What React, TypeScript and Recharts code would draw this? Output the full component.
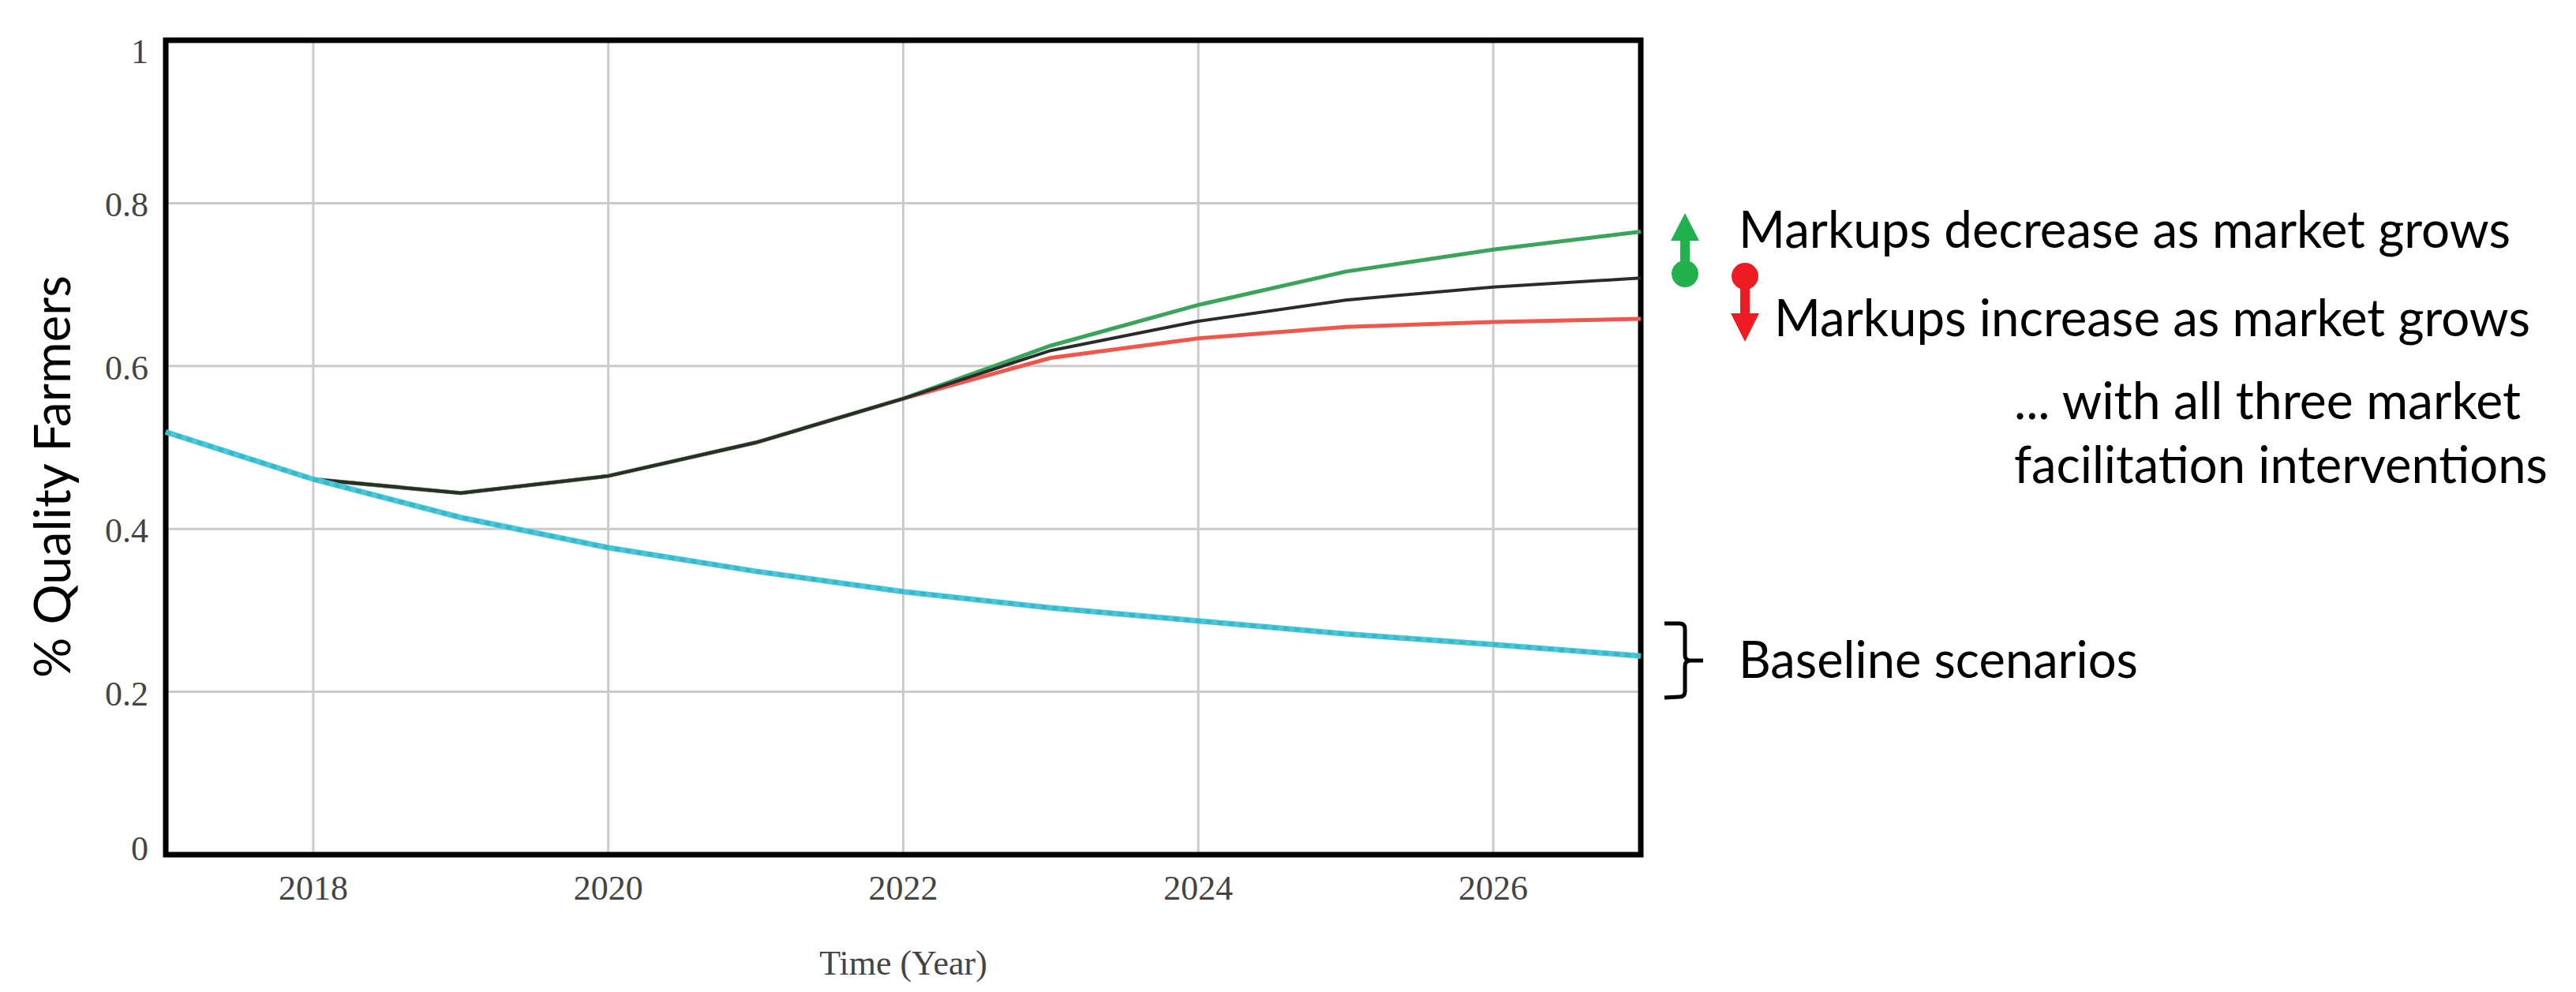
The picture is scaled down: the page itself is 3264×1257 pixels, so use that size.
import React from 'react';
import { LineChart, Line, XAxis, YAxis, CartesianGrid, ReferenceArea } from 'recharts';

const years = [2017, 2018, 2019, 2020, 2021, 2022, 2023, 2024, 2025, 2026, 2027];
const baseline = [0.519, 0.461, 0.414, 0.377, 0.348, 0.323, 0.303, 0.287, 0.271, 0.258, 0.244];
const baselineAlt = [0.519, 0.461, 0.414, 0.377, 0.348, 0.323, 0.303, 0.287, 0.271, 0.258, 0.244];
const markupsDecrease = [0.519, 0.461, 0.444, 0.465, 0.506, 0.56, 0.625, 0.675, 0.716, 0.743, 0.765];
const markupsConstant = [0.519, 0.461, 0.444, 0.465, 0.506, 0.56, 0.619, 0.655, 0.681, 0.697, 0.708];
const markupsIncrease = [0.519, 0.461, 0.444, 0.465, 0.506, 0.56, 0.61, 0.634, 0.648, 0.654, 0.658];
const xTicks = [2018, 2020, 2022, 2024, 2026];
const yTicks = [0, 0.2, 0.4, 0.6, 0.8, 1];

const chartData = years.map((year, i) => ({
  year,
  baseline: baseline[i],
  baselineAlt: baselineAlt[i],
  decrease: markupsDecrease[i],
  constant: markupsConstant[i],
  increase: markupsIncrease[i],
}));

const WIDTH = 3264;
const HEIGHT = 1257;
const NOTE_FONT = 'Lato, "Open Sans", sans-serif';
const AXIS_FONT = '"Liberation Serif", "Times New Roman", serif';
const GREEN = '#22b14c';
const RED = '#ed1c24';

const YTick = ({ x, y, payload }: any) => {
  // the end labels sit inside the frame, as in the original export
  const shift = payload.value === 1 ? 29 : payload.value === 0 ? 7 : 17;
  return (
    <text x={x} y={y + shift} textAnchor="end" fontFamily={AXIS_FONT} fontSize={44} fill="#444">
      {payload.value}
    </text>
  );
};

const YTitle = () => (
  <text
    transform="translate(64 604) rotate(-90)"
    textAnchor="middle"
    dominantBaseline="central"
    fontFamily={NOTE_FONT}
    fontSize={64}
    fill="#000"
    textLength={510}
    lengthAdjust="spacingAndGlyphs"
  >
    % Quality Farmers
  </text>
);

const Note = ({ x, y, width, children }: any) => (
  <text
    x={x}
    y={y}
    fontFamily={NOTE_FONT}
    fontSize={66}
    fill="#000"
    textLength={width}
    lengthAdjust="spacingAndGlyphs"
  >
    {children}
  </text>
);

const Annotations = () => (
  <svg width={WIDTH} height={HEIGHT} style={{ position: 'absolute', left: 0, top: 0, pointerEvents: 'none' }}>
    <path d="M2135 270 L2153 305 L2141 305 L2141 340 L2129 340 L2129 305 L2117 305 Z" fill={GREEN} />
    <ellipse cx={2135} cy={347} rx={17} ry={17} fill={GREEN} />
    <path d="M2211 433 L2193 397 L2205 397 L2205 355 L2217 355 L2217 397 L2229 397 Z" fill={RED} />
    <ellipse cx={2211} cy={350} rx={17} ry={17} fill={RED} />
    <path
      d="M2109 790 L2128 790 Q2135 790 2135 797 L2135 830 Q2135 837 2142 837 L2158 837 L2142 837 Q2135 837 2135 844 L2135 876 Q2135 883 2128 883 L2109 884"
      fill="none"
      stroke="#000"
      strokeWidth={5}
    />
    <Note x={2203} y={314} width={978}>Markups decrease as market grows</Note>
    <Note x={2248} y={426} width={958}>Markups increase as market grows</Note>
    <Note x={2552} y={531} width={642}>... with all three market</Note>
    <Note x={2552} y={612} width={676}>facilitation interventions</Note>
    <Note x={2203} y={859} width={506}>Baseline scenarios</Note>
  </svg>
);

export default function App() {
  return (
    <div style={{ position: 'absolute', left: 0, top: 0, width: WIDTH, height: HEIGHT, background: '#fff' }}>
      <LineChart
        width={WIDTH}
        height={HEIGHT}
        data={chartData}
        margin={{ top: 51, right: 1185, bottom: 0, left: 0 }}
      >
        <CartesianGrid stroke="#cbcbcb" strokeWidth={3} />
        <XAxis
          dataKey="year"
          type="number"
          domain={[2017, 2027]}
          ticks={xTicks}
          height={174}
          axisLine={false}
          tickLine={false}
          tickMargin={20}
          tick={{ fontFamily: AXIS_FONT, fontSize: 44, fill: '#444' }}
          label={{
            value: 'Time (Year)',
            position: 'insideBottom',
            offset: 22,
            style: { fontFamily: AXIS_FONT, fontSize: 44, fill: '#444' },
          }}
        />
        <YAxis
          type="number"
          domain={[0, 1]}
          ticks={yTicks}
          width={210}
          axisLine={false}
          tickLine={false}
          tick={(props: any) => <YTick {...props} x={188} />}
          label={{ content: () => <YTitle /> }}
        />
        <Line type="linear" dataKey="increase" stroke="#f0564c" strokeWidth={5} dot={false} isAnimationActive={false} />
        <Line type="linear" dataKey="decrease" stroke="#3aa45a" strokeWidth={5} dot={false} isAnimationActive={false} />
        <Line type="linear" dataKey="constant" stroke="#2b2b2b" strokeWidth={4} dot={false} isAnimationActive={false} />
        <Line type="linear" dataKey="baseline" stroke="#4cc6da" strokeWidth={7} dot={false} isAnimationActive={false} />
        <Line
          type="linear"
          dataKey="baselineAlt"
          stroke="#35b8c8"
          strokeWidth={5}
          strokeDasharray="7 7"
          dot={false}
          isAnimationActive={false}
        />
        <ReferenceArea x1={2017} x2={2027} y1={0} y2={1} fill="none" stroke="#000" strokeWidth={7} ifOverflow="visible" />
      </LineChart>
      <Annotations />
    </div>
  );
}
